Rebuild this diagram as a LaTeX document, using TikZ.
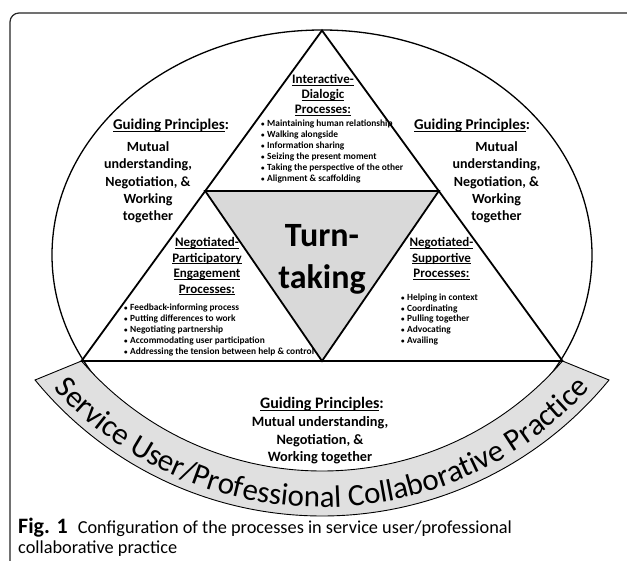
\documentclass[tikz,border=0pt]{standalone}
\usepackage{fontspec}
\setmainfont{Carlito}
\usetikzlibrary{decorations.text}
\definecolor{trigray}{RGB}{217,217,217}
\definecolor{bandgray}{RGB}{224,224,224}
\newcommand\ulx[1]{\setbox0=\hbox{#1}\rlap{\rule[-1.7pt]{\wd0}{0.9pt}}\box0}
\newcommand\bandfont{\fontsize{31}{31}\selectfont}
\newcommand\smbul{\makebox[6pt][l]{\fontsize{7}{7}\selectfont\textbullet}}
\begin{document}
\begin{tikzpicture}[x=1pt,y=1pt,
  txt/.style={inner sep=0pt,anchor=base},
  head/.style={txt,font=\bfseries\fontsize{13}{14}\selectfont},
  gphead/.style={txt,font=\bfseries\fontsize{15}{17}\selectfont},
  gpbody/.style={txt,font=\bfseries\fontsize{14}{16}\selectfont},
  bgphead/.style={txt,font=\bfseries\fontsize{16}{17}\selectfont},
  bgpbody/.style={txt,font=\bfseries\fontsize{14.3}{15}\selectfont},
  bul/.style={inner sep=0pt,anchor=base west,font=\bfseries\fontsize{9.4}{10}\selectfont},
  bigtxt/.style={txt,font=\bfseries\fontsize{34}{36}\selectfont},
  capt/.style={inner sep=0pt,anchor=base west,font=\fontsize{18.3}{22}\selectfont},
  triline/.style={draw=black,line width=1.8pt,line join=miter},
  frameline/.style={draw=black!85,line width=1.2pt,rounded corners=9pt}
]
\useasboundingbox (0,0) rectangle (627,-561);
\fill[white] (0,0) rectangle (627,-561);
% frame
\draw[frameline] (10,-565) -- (10,-13) -- (630,-13);
% ellipse
\draw[line width=1.3pt] (322,-255) ellipse [x radius=270pt, y radius=225pt];
% band
\filldraw[fill=bandgray,draw=black,line width=0.9pt]
  (81.5,-361) arc[start angle=-139.16,end angle=-40.84,radius=317.9pt]
  -- (609,-380) arc[start angle=-39.29,end angle=-140.71,radius=370.8pt] -- cycle;
\path[decorate,decoration={text along path,text align=center,
  text={|\bandfont|Service User/Professional Collaborative Practice}}]
  (50,-384.1) arc[start angle=-138.71,end angle=-41.29,radius=362pt];
% triangles
\coordinate (A) at (322,-30.5);
\coordinate (B) at (81.5,-361);
\coordinate (C) at (562.5,-361);
\coordinate (L) at (205.2,-191);
\coordinate (R) at (438.8,-191);
\coordinate (M) at (322,-361);
\draw[triline] (A) -- (C) -- (B) -- cycle;
\filldraw[triline,fill=trigray] (L) -- (R) -- (M) -- cycle;
% turn-taking
\node[bigtxt] (tt1) at (322,-247) {Turn-};
\node[bigtxt] (tt2) at (322,-289) {taking};
% top section
\node[head] (h1) at (323,-84) {\ulx{Interactive-}};
\node[head] (h2) at (323,-99) {\ulx{Dialogic}};
\node[head] (h3) at (323,-114) {\ulx{Processes:}};
\foreach \t [count=\i] in {{Maintaining human relationship},{Walking alongside},{Information sharing},{Seizing the present moment},{Taking the perspective of the other},{Alignment \& scaffolding}}
  \node[bul] (tb\i) at (261,{-126.5-11.1*(\i-1)}) {\smbul\t};
% left section
\node[head] (l1) at (207,-247) {\ulx{Negotiated-}};
\node[head] (l2) at (207,-262.5) {\ulx{Participatory}};
\node[head] (l3) at (207,-278) {\ulx{Engagement}};
\node[head] (l4) at (207,-293.5) {\ulx{Processes:}};
\foreach \t [count=\i] in {{Feedback-informing process},{Putting differences to work},{Negotiating partnership},{Accommodating user participation},{Addressing the tension between help \& control}}
  \node[bul] (lb\i) at (124,{-310.5-10.9*(\i-1)}) {\smbul\t};
% right section
\node[head] (r1) at (441.5,-247) {\ulx{Negotiated-}};
\node[head] (r2) at (441.5,-262.5) {\ulx{Supportive}};
\node[head] (r3) at (441.5,-278) {\ulx{Processes:}};
\foreach \t [count=\i] in {{Helping in context},{Coordinating},{Pulling together},{Advocating},{Availing}}
  \node[bul] (rb\i) at (401,{-300.3-10.75*(\i-1)}) {\smbul\t};
% guiding principles left
\node[gphead] (gl0) at (171,-130) {\ulx{Guiding Principles}:};
\node[gpbody] (gl1) at (148,-151.5) {Mutual};
\node[gpbody] (gl2) at (148,-169) {understanding,};
\node[gpbody] (gl3) at (148,-186.5) {Negotiation, \&};
\node[gpbody] (gl4) at (148,-203.5) {Working};
\node[gpbody] (gl5) at (148,-221) {together};
% guiding principles right
\node[gphead] (gr0) at (472,-130) {\ulx{Guiding Principles}:};
\node[gpbody] (gr1) at (496.5,-151.5) {Mutual};
\node[gpbody] (gr2) at (496.5,-169) {understanding,};
\node[gpbody] (gr3) at (496.5,-186.5) {Negotiation, \&};
\node[gpbody] (gr4) at (496.5,-203.5) {Working};
\node[gpbody] (gr5) at (496.5,-221) {together};
% guiding principles bottom
\node[bgphead] (gb0) at (322,-409) {\ulx{Guiding Principles}:};
\node[bgpbody] (gb1) at (320,-427) {Mutual understanding,};
\node[bgpbody] (gb2) at (320,-444) {Negotiation, \&};
\node[bgpbody] (gb3) at (320,-461) {Working together};
% caption
\node[capt] (cap1) at (18,-533) {{\bfseries\fontsize{22}{22}\selectfont Fig. 1}\hspace{10pt}Configuration of the processes in service user/professional};
\node[capt] (cap2) at (18,-553) {collaborative practice};
\end{tikzpicture}
\end{document}
